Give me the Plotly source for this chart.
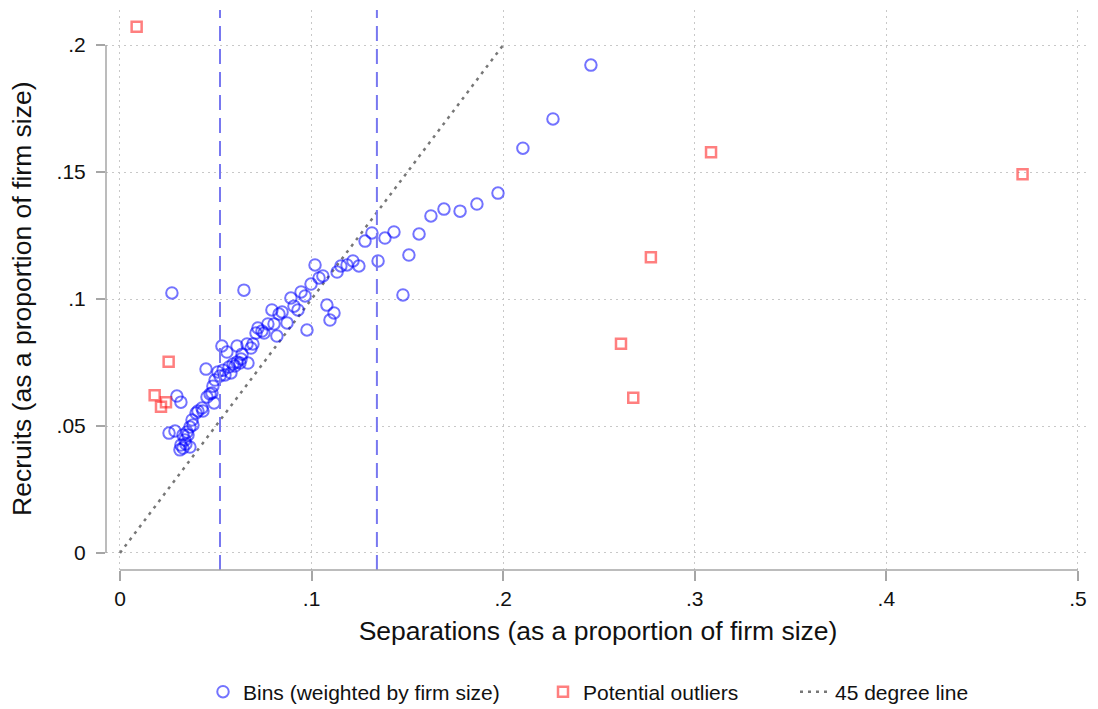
import plotly.graph_objects as go

# Binned firm-level flows (share of firm size)
bin_sep = [0.0256, 0.0271, 0.0287, 0.0297, 0.0313, 0.0318, 0.0318, 0.0329, 0.0329, 0.0339,
           0.0344, 0.0350, 0.0355, 0.0365, 0.0365, 0.0376, 0.0381, 0.0397, 0.0407, 0.0428,
           0.0433, 0.0449, 0.0454, 0.0470, 0.0480, 0.0485, 0.0491, 0.0496, 0.0511, 0.0522,
           0.0532, 0.0538, 0.0548, 0.0558, 0.0569, 0.0579, 0.0590, 0.0600, 0.0611, 0.0611,
           0.0626, 0.0632, 0.0637, 0.0647, 0.0663, 0.0668, 0.0684, 0.0694, 0.0710, 0.0720,
           0.0741, 0.0752, 0.0772, 0.0793, 0.0804, 0.0819, 0.0830, 0.0846, 0.0872, 0.0892,
           0.0908, 0.0929, 0.0945, 0.0966, 0.0976, 0.0997, 0.1018, 0.1039, 0.1059, 0.1080,
           0.1096, 0.1117, 0.1133, 0.1153, 0.1185, 0.1216, 0.1247, 0.1279, 0.1315, 0.1347,
           0.1383, 0.1430, 0.1477, 0.1508, 0.1561, 0.1623, 0.1691, 0.1775, 0.1863, 0.1973,
           0.2103, 0.2260, 0.2458]
bin_rec = [0.0472, 0.1024, 0.0480, 0.0618, 0.0406, 0.0594, 0.0425, 0.0465, 0.0413, 0.0445,
           0.0429, 0.0476, 0.0465, 0.0496, 0.0417, 0.0524, 0.0504, 0.0551, 0.0559, 0.0571,
           0.0559, 0.0724, 0.0614, 0.0626, 0.0630, 0.0657, 0.0591, 0.0681, 0.0713, 0.0697,
           0.0815, 0.0720, 0.0701, 0.0791, 0.0732, 0.0709, 0.0744, 0.0736, 0.0752, 0.0815,
           0.0748, 0.0764, 0.0783, 0.1035, 0.0823, 0.0748, 0.0807, 0.0823, 0.0866, 0.0886,
           0.0874, 0.0866, 0.0902, 0.0957, 0.0902, 0.0854, 0.0941, 0.0949, 0.0906, 0.1004,
           0.0972, 0.0957, 0.1028, 0.1012, 0.0878, 0.1059, 0.1134, 0.1083, 0.1091, 0.0976,
           0.0917, 0.0945, 0.1106, 0.1130, 0.1134, 0.1150, 0.1130, 0.1228, 0.1260, 0.1150,
           0.1240, 0.1264, 0.1016, 0.1173, 0.1256, 0.1327, 0.1354, 0.1346, 0.1374, 0.1417,
           0.1594, 0.1709, 0.1921]

# Bins flagged as potential outliers
out_sep = [0.0087, 0.0181, 0.0214, 0.0240, 0.0254, 0.2615, 0.2679, 0.2771, 0.3085, 0.4711]
out_rec = [0.2072, 0.0621, 0.0576, 0.0594, 0.0753, 0.0824, 0.0611, 0.1164, 0.1578, 0.1491]

# 45 degree reference line and separation-rate cutoffs
diag_x = [0, 0.2]
diag_y = [0, 0.2]
cutoffs = [0.0522, 0.1341]

x_ticks = [0, 0.1, 0.2, 0.3, 0.4, 0.5]
x_labels = ["0", ".1", ".2", ".3", ".4", ".5"]
y_ticks = [0, 0.05, 0.1, 0.15, 0.2]
y_labels = ["0", ".05", ".1", ".15", ".2"]

FONT = "Liberation Sans, Arial, Helvetica, sans-serif"
AXIS_GRAY = "#a6a6a6"
TEXT = "#111111"

fig = go.Figure()

fig.add_trace(go.Scatter(
    x=diag_x, y=diag_y, mode="lines", name="45 degree line",
    line=dict(color="#777777", width=2.5, dash="3px,5px"),
    legend="legend3", showlegend=True,
))
fig.add_trace(go.Scatter(
    x=bin_sep, y=bin_rec, mode="markers", name="Bins (weighted by firm size)",
    marker=dict(symbol="circle-open", size=11.5, color="rgba(0,0,255,0.55)",
                line=dict(width=2)),
    legend="legend", showlegend=True,
))
fig.add_trace(go.Scatter(
    x=out_sep, y=out_rec, mode="markers", name="Potential outliers",
    marker=dict(symbol="square-open", size=10, color="rgba(255,0,0,0.5)",
                line=dict(width=2.5)),
    legend="legend2", showlegend=True,
))

shapes = []
for c in cutoffs:
    shapes.append(dict(type="line", xref="x", yref="paper", x0=c, x1=c, y0=0, y1=1,
                       line=dict(color="#7878f0", width=2, dash="15px,8px"), layer="above"))
# axis lines spanning only the labelled ranges
shapes.append(dict(type="line", xref="x", yref="paper", x0=x_ticks[0], x1=x_ticks[-1],
                   y0=0, y1=0, line=dict(color=AXIS_GRAY, width=1.5)))
shapes.append(dict(type="line", xref="paper", yref="y", x0=0, x1=0,
                   y0=y_ticks[0], y1=y_ticks[-1], line=dict(color=AXIS_GRAY, width=1.5)))

legend_common = dict(orientation="h", xref="container", yref="container",
                     yanchor="middle", y=1 - 692 / 709, bgcolor="rgba(0,0,0,0)",
                     font=dict(family=FONT, size=21, color=TEXT))

fig.update_layout(
    width=1098, height=709,
    margin=dict(l=106, r=8, t=10, b=139),
    paper_bgcolor="white", plot_bgcolor="white",
    font=dict(family=FONT, color=TEXT),
    showlegend=True,
    shapes=shapes,
    legend=dict(**legend_common, x=203 / 1098, xanchor="left"),
    legend2=dict(**legend_common, x=543 / 1098, xanchor="left"),
    legend3=dict(**legend_common, x=795 / 1098, xanchor="left"),
    xaxis=dict(
        range=[-0.0073, 0.5063], tickvals=x_ticks, ticktext=x_labels,
        showgrid=True, gridcolor="#c8c8c8", gridwidth=1, griddash="2px,4px",
        zeroline=False, showline=False,
        ticks="outside", ticklen=10, tickcolor=AXIS_GRAY, tickwidth=1.5,
        tickfont=dict(family=FONT, size=21, color=TEXT),
        title=dict(text="Separations (as a proportion of firm size)",
                   font=dict(family=FONT, size=26.5, color=TEXT), standoff=12),
    ),
    yaxis=dict(
        range=[-0.0067, 0.2138], tickvals=y_ticks, ticktext=y_labels,
        showgrid=True, gridcolor="#c8c8c8", gridwidth=1, griddash="2px,4px",
        zeroline=False, showline=False,
        ticks="outside", ticklen=9, tickcolor=AXIS_GRAY, tickwidth=1.5,
        ticklabelstandoff=6,
        tickfont=dict(family=FONT, size=21, color=TEXT),
    ),
    annotations=[dict(
        text="Recruits (as a proportion of firm size)", textangle=-90,
        xref="paper", yref="paper", x=-0.0854, y=0.484,
        xanchor="center", yanchor="middle", showarrow=False,
        font=dict(family=FONT, size=26.5, color=TEXT),
    )],
)

fig.write_html("out.html")
